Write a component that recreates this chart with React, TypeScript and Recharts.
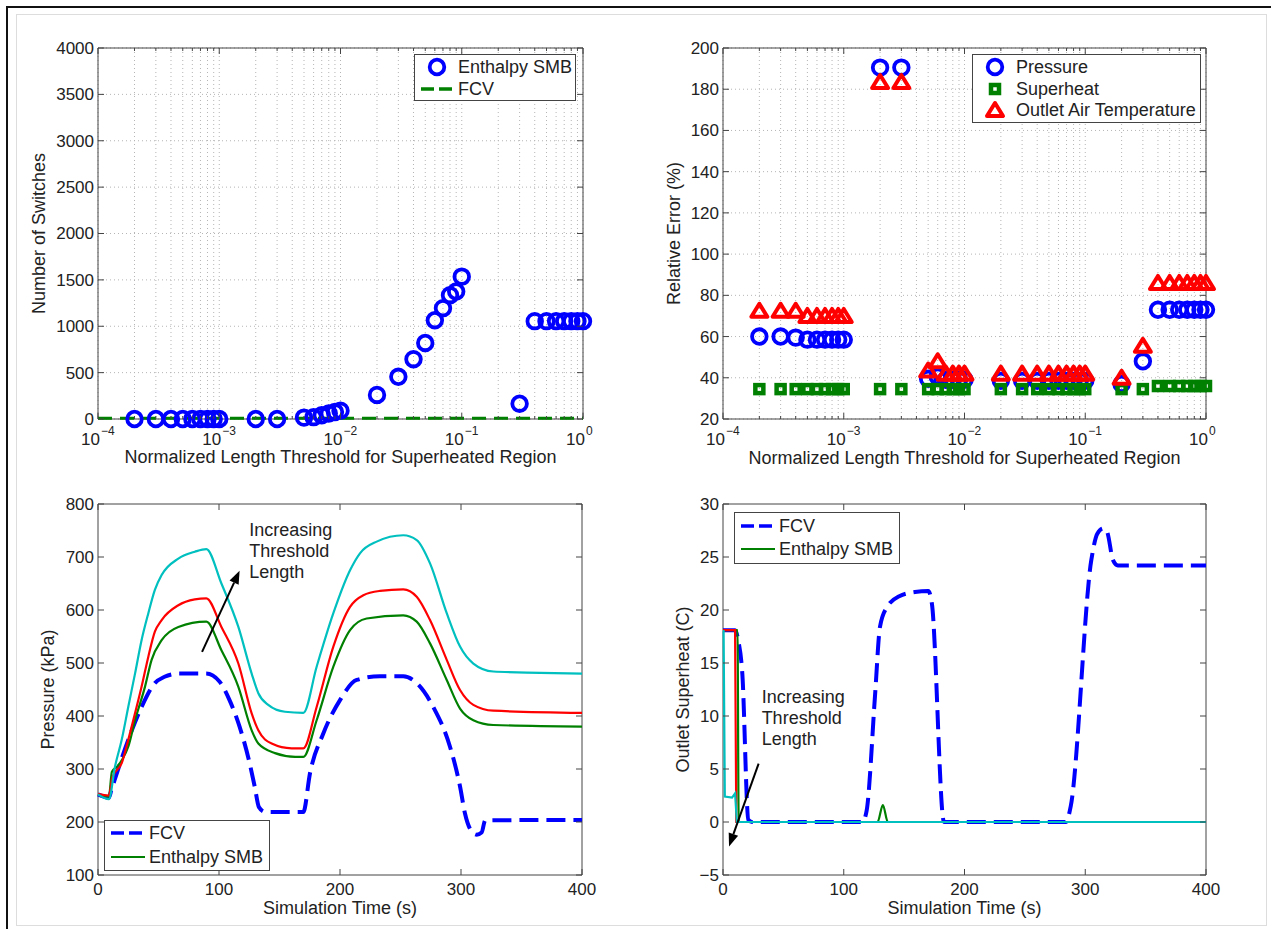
import React from 'react';
import {
  ComposedChart, LineChart, Line, Scatter, XAxis, YAxis, CartesianGrid,
  ReferenceArea, ReferenceLine, ReferenceDot, Legend,
} from 'recharts';

const FONT = '"Liberation Sans", Arial, Helvetica, sans-serif';
const INK = '#222';
const AXIS_C = '#444';
const GRID_C = '#b5b5b5';
const BLUE = '#0000ff';
const GREEN = '#008000';
const RED = '#ff0000';
const CYAN = '#00bfbf';
const GAP = 4;

// ---- log axis (normalized length threshold) ----
const decades = [1e-4, 1e-3, 1e-2, 1e-1, 1];
const decadeExp = ['\u22124', '\u22123', '\u22122', '\u22121', '0'];
const minorSteps = [2, 3, 4, 5, 6, 7, 8, 9];
const logTicks = decades.flatMap((d, i) =>
  i < decades.length - 1 ? [d, ...minorSteps.map((m) => m * d)] : [d]
);

// ---- top left: number of switches ----
const smbThreshold = [
  2e-4, 3e-4, 4e-4, 5e-4, 6e-4, 7e-4, 8e-4, 9e-4, 1e-3,
  2e-3, 3e-3,
  5e-3, 6e-3, 7e-3, 8e-3, 9e-3, 1e-2,
  2e-2, 3e-2, 4e-2, 5e-2, 6e-2, 7e-2, 8e-2, 9e-2, 1e-1,
  3e-1,
  4e-1, 5e-1, 6e-1, 7e-1, 8e-1, 9e-1, 1,
];
const smbSwitches = [
  0, 0, 0, 0, 0, 0, 0, 0, 0,
  0, 0,
  15, 20, 40, 60, 75, 90,
  260, 455, 645, 820, 1065, 1195, 1335, 1375, 1535,
  165,
  1055, 1055, 1055, 1055, 1055, 1055, 1055,
];
const fcvThreshold = [1e-4, 1];
const fcvSwitches = [8, 8];
const switchTicks = [0, 500, 1000, 1500, 2000, 2500, 3000, 3500, 4000];

// ---- top right: relative error ----
const errThreshold = [
  2e-4, 3e-4, 4e-4, 5e-4, 6e-4, 7e-4, 8e-4, 9e-4, 1e-3,
  2e-3, 3e-3,
  5e-3, 6e-3, 7e-3, 8e-3, 9e-3, 1e-2,
  2e-2, 3e-2, 4e-2, 5e-2, 6e-2, 7e-2, 8e-2, 9e-2, 1e-1,
  2e-1, 3e-1,
  4e-1, 5e-1, 6e-1, 7e-1, 8e-1, 9e-1, 1,
];
const pressureErr = [
  60, 60, 59.5, 58.5, 58.5, 58.5, 58.5, 58.5, 58.5,
  190.5, 190.5,
  39.5, 40.5, 39, 39, 39, 39,
  38.5, 38.5, 38.5, 38.5, 38.5, 38.5, 38.5, 38.5, 38.5,
  37, 48,
  73, 73, 73, 73, 73, 73, 73,
];
const superheatErr = [
  34.5, 34.5, 34.5, 34.5, 34.5, 34.5, 34.5, 34.5, 34.5,
  34.5, 34.5,
  34.5, 34.5, 34.5, 34.5, 34.5, 34.5,
  34.5, 34.5, 34.5, 34.5, 34.5, 34.5, 34.5, 34.5, 34.5,
  34.5, 34.5,
  36, 36, 36, 36, 36, 36, 36,
];
const airTempErr = [
  72.5, 72.5, 72.5, 70, 70, 70, 70, 70, 70,
  183.5, 183.5,
  43.5, 48, 42, 42, 42, 42,
  42, 42, 42, 42, 42, 42, 42, 42, 42,
  40, 55.5,
  86, 86, 86, 86, 86, 86, 86,
];
const errTicks = [20, 40, 60, 80, 100, 120, 140, 160, 180, 200];

// ---- bottom left: pressure (kPa) vs time ----
const fcvPTime = [0, 9, 11, 25, 36, 47, 55, 66.4, 89.3, 100.4, 108.7, 117, 125.3, 129.5, 133, 138, 169.7, 175.2, 186.2, 200, 213.8, 233, 252.3, 263.4, 277.1, 290.9, 299.2, 303.3, 308, 313, 317, 320, 400];
const fcvPressure = [252, 246, 260, 355, 417, 462, 474, 480, 480, 465, 430, 380, 311, 267, 228, 219, 219, 292, 367, 430, 468, 475, 475, 462, 417, 342, 267, 216, 185, 176, 180, 203, 204];
const smbPTime = [0, 9, 11.5, 16, 20, 25, 30.6, 38.8, 44.3, 52.6, 66.4, 89.5, 102, 116, 127, 132.5, 146.3, 163, 169.7, 180.7, 194.5, 208.3, 222, 252.3, 263.4, 274.4, 288.2, 299.2, 310.2, 326.7, 400];
const smbPressure = [252, 248, 295, 305, 318, 342, 392, 455, 506, 543, 568, 578, 524, 455, 373, 348, 330, 323, 323, 392, 493, 562, 584, 590, 578, 537, 468, 414, 392, 383, 380];
const redPTime = [0, 9, 12, 19.6, 25, 30.6, 36, 41.6, 47, 52.6, 66.4, 80, 89.5, 102, 116, 127, 132.5, 143.5, 160, 169.7, 180.7, 194.5, 208.3, 219.3, 233, 252.3, 263.4, 274.4, 288.2, 299.2, 310.2, 326.7, 400];
const redPressure = [253, 250, 285, 311, 355, 405, 455, 512, 559, 581, 609, 620, 622, 568, 499, 405, 373, 348, 339, 339, 417, 531, 606, 628, 636, 639, 625, 581, 506, 449, 421, 410, 406];
const cyanPTime = [0, 9, 14, 19.6, 25, 30.6, 36, 41.6, 47, 52.6, 66.4, 80, 89.5, 102, 116, 127, 132.5, 140.7, 154.5, 169.7, 180.7, 194.5, 208.3, 216.5, 230.3, 252.3, 263.4, 274.4, 288.2, 299.2, 310.2, 326.7, 354, 400];
const cyanPressure = [252, 243, 304, 355, 417, 480, 543, 594, 638, 666, 697, 710, 715, 650, 568, 480, 443, 421, 408, 406, 493, 594, 675, 707, 729, 741, 732, 688, 594, 531, 499, 484, 482, 480];
const timeTicks = [0, 100, 200, 300, 400];
const pressureTicks = [100, 200, 300, 400, 500, 600, 700, 800];

// ---- bottom right: outlet superheat (C) vs time ----
const fcvSTime = [0, 10, 12.5, 16, 21, 24, 115.5, 119, 126, 130, 136, 146, 159, 170, 173, 183, 284, 288, 305, 310, 315, 318, 323, 327, 400];
const fcvSuperheat = [18.1, 18.1, 17.2, 14, 0.2, 0, 0, 1.1, 12.1, 18.4, 20.3, 21.3, 21.7, 21.8, 20.6, 0, 0, 1.5, 24.7, 27.2, 27.7, 27.4, 24.7, 24.2, 24.2];
const smbSTime = [0, 12, 13, 128, 132.4, 136.5, 400];
const smbSuperheat = [18.1, 18.1, 0, 0, 1.6, 0, 0];
const redSTime = [0, 10, 11, 400];
const redSuperheat = [18.1, 18.1, 0, 0];
const cyanSTime = [0, 0.5, 1.5, 7.5, 10, 11.5, 400];
const cyanSuperheat = [18, 18, 2.4, 2.3, 2.7, 0, 0];
const superheatTicks = [-5, 0, 5, 10, 15, 20, 25, 30];

const annotationLines = ['Increasing', 'Threshold', 'Length'];

const zip = (xs: number[], ys: number[], kx: string, ky: string) =>
  xs.map((x, i) => ({ [kx]: x, [ky]: ys[i] }));

const PH = 371;

// ---- tick renderers (matlab style: inward ticks on both sides) ----
const makeLogXTick = (ph: number) => (props: any) => {
  const { x, y, payload } = props;
  const axisY = y - GAP;
  const idx = decades.findIndex((d) => Math.abs(d - payload.value) / d < 1e-6);
  const len = idx >= 0 ? 6 : 3;
  return (
    <g>
      <line x1={x} y1={axisY} x2={x} y2={axisY - len} stroke={AXIS_C} />
      <line x1={x} y1={axisY - ph} x2={x} y2={axisY - ph + len} stroke={AXIS_C} />
      {idx >= 0 && (
        <g fontFamily={FONT} fill={INK}>
          <text x={x + 2} y={axisY + 26} fontSize={17} textAnchor="end">10</text>
          <text x={x + 3} y={axisY + 16} fontSize={12}>{decadeExp[idx]}</text>
        </g>
      )}
    </g>
  );
};

const makeLinXTick = (ph: number) => (props: any) => {
  const { x, y, payload } = props;
  const axisY = y - GAP;
  return (
    <g>
      <line x1={x} y1={axisY} x2={x} y2={axisY - 6} stroke={AXIS_C} />
      <line x1={x} y1={axisY - ph} x2={x} y2={axisY - ph + 6} stroke={AXIS_C} />
      <text x={x} y={axisY + 20} fontSize={17} fontFamily={FONT} fill={INK} textAnchor="middle">
        {String(payload.value)}
      </text>
    </g>
  );
};

const makeYTick = (pw: number) => (props: any) => {
  const { x, y, payload } = props;
  const axisX = x + GAP;
  const v = payload.value;
  return (
    <g>
      <line x1={axisX} y1={y} x2={axisX + 6} y2={y} stroke={AXIS_C} />
      <line x1={axisX + pw} y1={y} x2={axisX + pw - 6} y2={y} stroke={AXIS_C} />
      <text x={x} y={y} dy="0.35em" fontSize={17} fontFamily={FONT} fill={INK} textAnchor="end">
        {v < 0 ? '\u2212' + Math.abs(v) : String(v)}
      </text>
    </g>
  );
};

const xTitle = (text: string, drop: number) => ({ viewBox }: any) => (
  <text x={viewBox.x + viewBox.width / 2} y={viewBox.y + drop} fontSize={18} fontFamily={FONT} fill={INK} textAnchor="middle">
    {text}
  </text>
);

const yTitle = (text: string, off: number) => ({ viewBox }: any) => {
  const cx = viewBox.x + viewBox.width - off;
  const cy = viewBox.y + viewBox.height / 2;
  return (
    <text x={cx} y={cy} dy="0.35em" fontSize={18} fontFamily={FONT} fill={INK} textAnchor="middle" transform={`rotate(-90 ${cx} ${cy})`}>
      {text}
    </text>
  );
};

// ---- markers ----
const circleMark = (r: number, sw: number) => (p: any) => (
  <circle cx={p.cx} cy={p.cy} r={r} fill="none" stroke={BLUE} strokeWidth={sw} />
);
const squareMark = (p: any) => (
  <rect x={p.cx - 4} y={p.cy - 4} width={8} height={8} fill="none" stroke={GREEN} strokeWidth={4.5} />
);
const triangleMark = (p: any) => (
  <polygon
    points={`${p.cx},${p.cy - 7} ${p.cx + 8},${p.cy + 6} ${p.cx - 8},${p.cy + 6}`}
    fill="none" stroke={RED} strokeWidth={4} strokeLinejoin="round"
  />
);

const Arrow = (p: any) => {
  const { x1, y1, x2, y2 } = p;
  const a = Math.atan2(y2 - y1, x2 - x1);
  const hl = 13;
  const hw = 5;
  const bx = x2 - hl * Math.cos(a);
  const by = y2 - hl * Math.sin(a);
  const nx = -Math.sin(a) * hw;
  const ny = Math.cos(a) * hw;
  return (
    <g>
      <line x1={x1} y1={y1} x2={bx} y2={by} stroke="#000" strokeWidth={2} />
      <polygon points={`${x2},${y2} ${bx + nx},${by + ny} ${bx - nx},${by - ny}`} fill="#000" />
    </g>
  );
};

const annotation = (p: any) => (
  <text x={p.cx} y={p.cy + 6} fontSize={18} fontFamily={FONT} fill={INK}>
    {annotationLines.map((s, i) => (
      <tspan key={s} x={p.cx} dy={i === 0 ? 0 : 21}>{s}</tspan>
    ))}
  </text>
);

// ---- legends ----
type Row = { label: string; kind: 'circle' | 'square' | 'triangle' | 'dash' | 'solid'; color: string };

const legendBox = (rows: Row[], w: number, h: number, rowYs: number[], textX: number) => () => (
  <svg width={w} height={h} style={{ display: 'block' }}>
    <rect x={0.5} y={0.5} width={w - 1} height={h - 1} fill="#fff" stroke={AXIS_C} />
    {rows.map((r, i) => {
      const y = rowYs[i];
      let mark: React.ReactNode = null;
      if (r.kind === 'circle') mark = circleMark(7.3, 3.8)({ cx: 23, cy: y });
      if (r.kind === 'square') mark = squareMark({ cx: 23, cy: y });
      if (r.kind === 'triangle') mark = triangleMark({ cx: 23, cy: y });
      if (r.kind === 'dash')
        mark = <line x1={7} y1={y} x2={textX - 4} y2={y} stroke={r.color} strokeWidth={3.5} strokeDasharray="13 5" />;
      if (r.kind === 'solid')
        mark = <line x1={7} y1={y} x2={textX - 4} y2={y} stroke={r.color} strokeWidth={2.2} />;
      return (
        <g key={r.label}>
          {mark}
          <text x={textX} y={y} dy="0.35em" fontSize={18} fontFamily={FONT} fill={INK}>{r.label}</text>
        </g>
      );
    })}
  </svg>
);

const noOffsetLegend = { layout: 'vertical' as const, align: 'center' as const, verticalAlign: 'middle' as const };

// ---- panels ----
function SwitchesPanel() {
  const smb = zip(smbThreshold, smbSwitches, 'x', 'y');
  const fcv = zip(fcvThreshold, fcvSwitches, 'x', 'y');
  return (
    <ComposedChart width={600} height={470} margin={{ top: 48, right: 17, bottom: 1, left: 38 }}>
      <CartesianGrid stroke={GRID_C} strokeDasharray="1 3" />
      <XAxis dataKey="x" type="number" scale="log" domain={[1e-4, 1]} ticks={logTicks} interval={0}
        axisLine={false} tickLine={false} tickSize={0} tickMargin={GAP} height={50}
        tick={makeLogXTick(PH)}
        label={{ content: xTitle('Normalized Length Threshold for Superheated Region', 44) }} />
      <YAxis type="number" domain={[0, 4000]} ticks={switchTicks} interval={0}
        axisLine={false} tickLine={false} tickSize={0} tickMargin={GAP} width={60}
        tick={makeYTick(485)}
        label={{ content: yTitle('Number of Switches', 59) }} />
      <ReferenceArea x1={1e-4} x2={1} y1={0} y2={4000} fill="none" stroke={AXIS_C} strokeWidth={1} />
      <Line data={fcv} dataKey="y" name="FCV" stroke={GREEN} strokeWidth={3} strokeDasharray="14 8" dot={false} isAnimationActive={false} />
      <Scatter data={smb} dataKey="y" name="Enthalpy SMB" shape={circleMark(7.3, 3.8)} isAnimationActive={false} />
      <Legend {...noOffsetLegend}
        wrapperStyle={{ left: 414, top: 54, width: 162, height: 47 }}
        content={legendBox(
          [{ label: 'Enthalpy SMB', kind: 'circle', color: BLUE }, { label: 'FCV', kind: 'dash', color: GREEN }],
          162, 47, [13, 35], 44)} />
    </ComposedChart>
  );
}

function ErrorPanel() {
  const p = zip(errThreshold, pressureErr, 'x', 'y');
  const s = zip(errThreshold, superheatErr, 'x', 'y');
  const a = zip(errThreshold, airTempErr, 'x', 'y');
  return (
    <ComposedChart width={600} height={470} margin={{ top: 48, right: 24, bottom: 1, left: 33 }}>
      <CartesianGrid stroke={GRID_C} strokeDasharray="1 3" />
      <XAxis dataKey="x" type="number" scale="log" domain={[1e-4, 1]} ticks={logTicks} interval={0}
        axisLine={false} tickLine={false} tickSize={0} tickMargin={GAP} height={50}
        tick={makeLogXTick(PH)}
        label={{ content: xTitle('Normalized Length Threshold for Superheated Region', 45) }} />
      <YAxis type="number" domain={[20, 200]} ticks={errTicks} interval={0}
        axisLine={false} tickLine={false} tickSize={0} tickMargin={GAP} width={60}
        tick={makeYTick(483)}
        label={{ content: yTitle('Relative Error (%)', 49) }} />
      <ReferenceArea x1={1e-4} x2={1} y1={20} y2={200} fill="none" stroke={AXIS_C} strokeWidth={1} />
      <Scatter data={p} dataKey="y" name="Pressure" shape={circleMark(7.3, 3.8)} isAnimationActive={false} />
      <Scatter data={s} dataKey="y" name="Superheat" shape={squareMark} isAnimationActive={false} />
      <Scatter data={a} dataKey="y" name="Outlet Air Temperature" shape={triangleMark} isAnimationActive={false} />
      <Legend {...noOffsetLegend}
        wrapperStyle={{ left: 342, top: 54, width: 229, height: 69 }}
        content={legendBox(
          [
            { label: 'Pressure', kind: 'circle', color: BLUE },
            { label: 'Superheat', kind: 'square', color: GREEN },
            { label: 'Outlet Air Temperature', kind: 'triangle', color: RED },
          ],
          229, 69, [13, 35, 56], 44)} />
    </ComposedChart>
  );
}

function PressurePanel() {
  return (
    <LineChart width={600} height={470} margin={{ top: 44, right: 18, bottom: 5, left: 38 }}>
      <XAxis dataKey="t" type="number" domain={[0, 400]} ticks={timeTicks} interval={0}
        axisLine={false} tickLine={false} tickSize={0} tickMargin={GAP} height={50}
        tick={makeLinXTick(PH)}
        label={{ content: xTitle('Simulation Time (s)', 39) }} />
      <YAxis type="number" domain={[100, 800]} ticks={pressureTicks} interval={0}
        axisLine={false} tickLine={false} tickSize={0} tickMargin={GAP} width={60}
        tick={makeYTick(484)}
        label={{ content: yTitle('Pressure (kPa)', 50) }} />
      <ReferenceArea x1={0} x2={400} y1={100} y2={800} fill="none" stroke={AXIS_C} strokeWidth={1} />
      <Line type="monotone" data={zip(fcvPTime, fcvPressure, 't', 'v')} dataKey="v" name="FCV" stroke={BLUE} strokeWidth={4} strokeDasharray="19 8" dot={false} isAnimationActive={false} />
      <Line type="monotone" data={zip(smbPTime, smbPressure, 't', 'v')} dataKey="v" name="Enthalpy SMB" stroke={GREEN} strokeWidth={2.2} dot={false} isAnimationActive={false} />
      <Line type="monotone" data={zip(redPTime, redPressure, 't', 'v')} dataKey="v" name="smb2" stroke={RED} strokeWidth={2.2} dot={false} isAnimationActive={false} />
      <Line type="monotone" data={zip(cyanPTime, cyanPressure, 't', 'v')} dataKey="v" name="smb3" stroke={CYAN} strokeWidth={2.2} dot={false} isAnimationActive={false} />
      <ReferenceLine segment={[{ x: 86, y: 521 }, { x: 117, y: 674 }]} shape={Arrow} />
      <ReferenceDot x={125} y={751} r={0} shape={annotation} />
      <Legend {...noOffsetLegend}
        wrapperStyle={{ left: 104, top: 360, width: 166, height: 51 }}
        content={legendBox(
          [{ label: 'FCV', kind: 'dash', color: BLUE }, { label: 'Enthalpy SMB', kind: 'solid', color: GREEN }],
          166, 51, [13, 37], 45)} />
    </LineChart>
  );
}

function SuperheatPanel() {
  return (
    <LineChart width={600} height={470} margin={{ top: 44, right: 24, bottom: 5, left: 33 }}>
      <XAxis dataKey="t" type="number" domain={[0, 400]} ticks={timeTicks} interval={0}
        axisLine={false} tickLine={false} tickSize={0} tickMargin={GAP} height={50}
        tick={makeLinXTick(PH)}
        label={{ content: xTitle('Simulation Time (s)', 39) }} />
      <YAxis type="number" domain={[-5, 30]} ticks={superheatTicks} interval={0}
        axisLine={false} tickLine={false} tickSize={0} tickMargin={GAP} width={60}
        tick={makeYTick(483)}
        label={{ content: yTitle('Outlet Superheat (C)', 40) }} />
      <ReferenceArea x1={0} x2={400} y1={-5} y2={30} fill="none" stroke={AXIS_C} strokeWidth={1} />
      <Line type="monotone" data={zip(fcvSTime, fcvSuperheat, 't', 'v')} dataKey="v" name="FCV" stroke={BLUE} strokeWidth={4} strokeDasharray="19 8" dot={false} isAnimationActive={false} />
      <Line type="monotone" data={zip(smbSTime, smbSuperheat, 't', 'v')} dataKey="v" name="Enthalpy SMB" stroke={GREEN} strokeWidth={2.2} dot={false} isAnimationActive={false} />
      <Line data={zip(redSTime, redSuperheat, 't', 'v')} dataKey="v" name="smb2" stroke={RED} strokeWidth={2.2} dot={false} isAnimationActive={false} />
      <Line data={zip(cyanSTime, cyanSuperheat, 't', 'v')} dataKey="v" name="smb3" stroke={CYAN} strokeWidth={2.2} dot={false} isAnimationActive={false} />
      <ReferenceLine segment={[{ x: 29.5, y: 5.5 }, { x: 5, y: -2.3 }]} shape={Arrow} />
      <ReferenceDot x={32} y={11.8} r={0} shape={annotation} />
      <Legend {...noOffsetLegend}
        wrapperStyle={{ left: 104, top: 52, width: 166, height: 52 }}
        content={legendBox(
          [{ label: 'FCV', kind: 'dash', color: BLUE }, { label: 'Enthalpy SMB', kind: 'solid', color: GREEN }],
          166, 52, [14, 37], 45)} />
    </LineChart>
  );
}

export default function App() {
  const pos = (left: number, top: number): React.CSSProperties => ({ position: 'absolute', left, top });
  return (
    <div style={{ position: 'absolute', left: 0, top: 0, width: 1271, height: 929, background: '#fff', overflow: 'hidden' }}>
      <div style={{ position: 'absolute', left: 6, top: 6, width: 1265, height: 2, background: '#111' }} />
      <div style={{ position: 'absolute', left: 6, top: 6, width: 2, height: 923, background: '#111' }} />
      <div style={{ position: 'absolute', left: 16, top: 14, width: 1249, height: 910, border: '1px solid #ddd' }} />
      <div style={pos(0, 0)}><SwitchesPanel /></div>
      <div style={pos(630, 0)}><ErrorPanel /></div>
      <div style={pos(0, 460)}><PressurePanel /></div>
      <div style={pos(630, 460)}><SuperheatPanel /></div>
    </div>
  );
}
